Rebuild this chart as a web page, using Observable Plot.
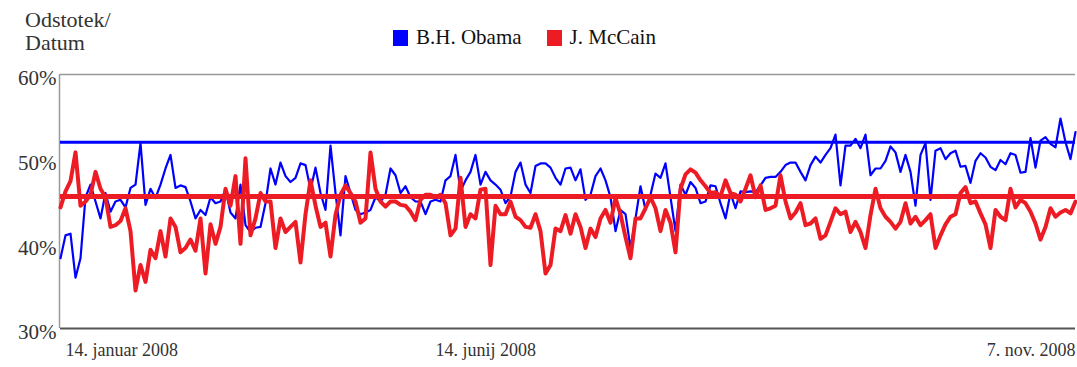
<!DOCTYPE html>
<html>
<head>
<meta charset="utf-8">
<script src="https://cdn.jsdelivr.net/npm/d3@7"></script>
<script src="https://cdn.jsdelivr.net/npm/@observablehq/plot@0.6"></script>
<style>
  body { margin: 0; background: #fff; }
  #wrap { position: relative; width: 1077px; height: 367px; font-family: "Liberation Serif", "Times New Roman", serif; color: #333; }
  #ytitle { position: absolute; left: 25px; top: 8px; font-size: 22px; line-height: 23px; }
  #legend { position: absolute; left: 393px; top: 25px; font-size: 21px; display: flex; align-items: center; color: #111; }
  .sw { display: inline-block; width: 15px; height: 16px; margin-right: 8px; }
  .item { display: flex; align-items: center; margin-right: 25px; }
  #chart { position: absolute; left: 0; top: 0; }
</style>
</head>
<body>
<div id="wrap">
  <div id="chart"></div>
  <div id="ytitle">Odstotek/<br>Datum</div>
  <div id="legend"></div>
</div>
<script>
// Series names and colours
const seriesNames = ["B.H. Obama", "J. McCain"];
const seriesColors = ["#0000ff", "#ed1c24"];

// Final-result reference levels (%)
const obamaRef = 52.0;
const mccainRef = 45.6;

// Poll values (%), in chronological order
const obama = [
  38.3, 41, 41.2, 36, 38.3, 45.5, 47, 45, 43, 46, 43.8, 45, 45.2, 44.3, 46.6, 47, 51.9, 44.6, 46.5, 45.4, 47, 48.9, 50.5, 46.6, 46.9, 46.7, 45, 43, 44, 43.4, 45.5, 44.8, 45, 46.4,
  43.7, 43, 47, 42.2, 41.4, 41.9, 42, 44.8, 48.9, 47, 49.6, 48, 47.3, 47.8, 49.5, 49.3, 46.4, 49, 46, 44, 51.6, 46, 41, 48, 46, 44, 43.5, 43.7, 44, 45.5, 45, 45.8, 48.9, 48.1,
  46, 46.8, 45.5, 45, 45, 43.5, 45, 45.2, 45, 47.5, 48, 50.5, 46.2, 47.5, 48.5, 50.5, 47, 48.5, 47.5, 47, 46.4, 44.8, 45.6, 48.5, 49.6, 47, 46, 49.2, 49.5, 49.5, 49, 47.8, 47, 48.9,
  49, 47.5, 48.8, 45.2, 45.8, 48, 48.9, 47.5, 45.5, 41.5, 44, 43.5, 39.5, 43, 46.8, 44, 45.8, 48.3, 47.8, 49.5, 45.5, 41.5, 47, 45.8, 47.3, 46.6, 44.8, 45, 46.9, 46.8, 44.8, 43, 46,
  44.2, 46.2, 46.1, 46.2, 46.1, 46.9, 47.8, 47.9, 47.9, 48.5, 49.3, 49.6, 49.6, 48.5, 47.5, 49.3, 50.3, 49.6, 50.5, 51.3, 52.9, 46.9, 51.6, 51.6, 52.4, 51.3, 52.9, 48.1, 48.9, 48.9, 49.8, 51.5, 50.8, 48.5,
  50.5, 48.5, 44.5, 50.5, 51.9, 45.2, 51, 51.3, 50, 50.7, 51, 49.1, 49.2, 47.2, 49.8, 50.7, 50.2, 49.1, 48.7, 49.9, 49.4, 50.7, 50.5, 48.4, 48.5, 52.5, 49, 52.2, 52.6, 51.8, 51.4, 54.8, 52, 50, 53.2
];
const mccain = [
  44.3, 46.2, 47.4, 50.8, 44.5, 45, 45.8, 48.5, 46.5, 45.5, 42, 42.2, 42.7, 44.2, 41.5, 34.5, 37.5, 35.5, 39.3, 38.3, 41.5, 38.5, 43, 42, 39, 39.5, 40.5, 39.2, 43, 36.5, 42.3, 40, 42, 46.5,
  44.5, 48, 40, 50.1, 41, 43, 46, 45, 45, 39.5, 43, 41.4, 42, 42.6, 37.8, 43.5, 47.5, 44.5, 42, 42.5, 38.5, 43.4, 45.8, 46.9, 46, 45, 42.5, 43, 50.8, 46.5, 45, 44.4, 45, 45,
  44.6, 44.5, 43.8, 42.8, 45.2, 45.8, 45.8, 45.5, 45.8, 44.8, 41, 41.8, 47.8, 42, 43.5, 43, 46.4, 46.5, 37.5, 44.5, 43.5, 43.5, 45, 43.2, 42.8, 42, 41.9, 43.5, 41.5, 36.5, 37.5, 41.8, 41.5, 43.4,
  41.2, 43.5, 42, 39.5, 41.8, 40.8, 43, 44, 42.5, 45.4, 43.5, 40.8, 38.3, 43, 43, 44.2, 45.5, 44.2, 41.5, 44, 42.5, 39, 46.5, 48.2, 48.8, 48.4, 47.5, 46.8, 46, 46.1, 45.6, 47.5, 46,
  45.8, 45, 46.5, 48.1, 45.5, 46.9, 44, 44.2, 44.5, 48.1, 45, 43, 43.7, 44.8, 42.2, 42.4, 43, 40.6, 41, 42.6, 44.2, 43.5, 43.8, 41.4, 42.6, 41.4, 39.5, 43.4, 46.5, 44.2, 43.2, 42.6, 41.8, 42.6,
  44.8, 42.4, 43.2, 42.2, 42.8, 43.5, 39.5, 41, 42.3, 43.2, 43.5, 46, 46.7, 44.8, 45, 43.6, 42.3, 39.5, 44, 43.2, 42.8, 46.5, 44.3, 45.2, 44.8, 43.8, 42.4, 40.5, 42, 44.2, 43.2, 43.7, 44, 43.6, 45
];

// Y axis ticks (%)
const yTicks = [30, 40, 50, 60];

// X axis date labels and the poll index where each sits
const xLabelText = ["14. januar 2008", "14. junij 2008", "7. nov. 2008"];
const xLabelPos = [1, 75, 203];

const obamaData = obama.map((v, i) => ({i, v}));
const mccainData = mccain.map((v, i) => ({i, v}));
const labelsStart = [0, 1].map(k => ({x: xLabelPos[k], t: xLabelText[k]}));
const labelsEnd = [2].map(k => ({x: xLabelPos[k], t: xLabelText[k]}));
const n = obama.length - 1;

const serif = "'Liberation Serif', 'Times New Roman', serif";

const chart = Plot.plot({
  width: 1077,
  height: 367,
  marginLeft: 60,
  marginRight: 2,
  marginTop: 74,
  marginBottom: 39,
  style: {fontFamily: serif, background: "white", overflow: "visible"},
  x: {domain: [0, n], axis: null},
  y: {domain: [30, 60], axis: null},
  marks: [
    Plot.axisY({ticks: yTicks, tickFormat: d => d + "%", label: null, tickSize: 0, tickPadding: 4, fontSize: 21, fill: "#333", dy: 4, fontFamily: serif}),
    Plot.ruleY([60], {stroke: "#999", strokeWidth: 1.5}),
    Plot.ruleX([0], {stroke: "#999", strokeWidth: 1.5, dx: -1}),
    Plot.line(obamaData, {x: "i", y: "v", stroke: seriesColors[0], strokeWidth: 2.2, strokeLinejoin: "round"}),
    Plot.ruleY([obamaRef], {stroke: seriesColors[0], strokeWidth: 3}),
    Plot.line(mccainData, {x: "i", y: "v", stroke: seriesColors[1], strokeWidth: 4, strokeLinejoin: "round"}),
    Plot.ruleY([mccainRef], {stroke: seriesColors[1], strokeWidth: 5}),
    Plot.ruleY([30], {stroke: "#555", strokeWidth: 2}),
    Plot.text(labelsStart, {x: "x", text: "t", frameAnchor: "bottom", dy: 27, textAnchor: "start", fontSize: 18, fill: "#333", fontFamily: serif}),
    Plot.text(labelsEnd, {x: "x", text: "t", frameAnchor: "bottom", dy: 27, textAnchor: "end", fontSize: 18, fill: "#333", fontFamily: serif})
  ]
});
document.getElementById("chart").appendChild(chart);

const legend = document.getElementById("legend");
seriesNames.forEach((name, k) => {
  const item = document.createElement("span");
  item.className = "item";
  const sw = document.createElement("span");
  sw.className = "sw";
  sw.style.background = seriesColors[k];
  item.appendChild(sw);
  item.appendChild(document.createTextNode(name));
  legend.appendChild(item);
});
</script>
</body>
</html>
